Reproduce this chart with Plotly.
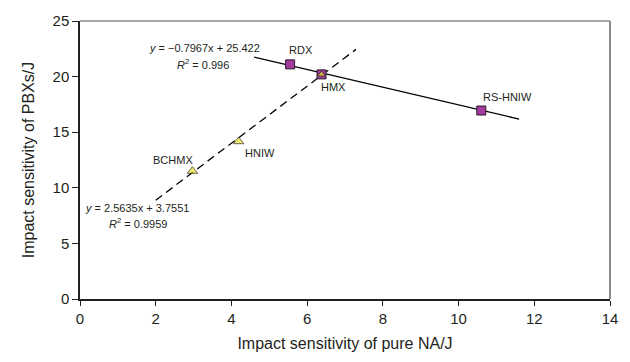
import plotly.graph_objects as go

# data
pbx_names = ["RDX", "HMX", "RS-HNIW"]
pbx_x = [5.55, 6.38, 10.6]
pbx_y = [21.1, 20.2, 16.95]

tri_names = ["BCHMX", "HNIW", "HMX"]
tri_x = [2.97, 4.19, 6.38]
tri_y = [11.5, 14.17, 20.2]

fit1_x = [4.6, 11.6]
fit1_y = [21.76, 16.18]
fit2_x = [2.0, 7.29]
fit2_y = [8.88, 22.45]

x_ticks = [0, 2, 4, 6, 8, 10, 12, 14]
y_ticks = [0, 5, 10, 15, 20, 25]

FONT = "Liberation Sans, Arial, sans-serif"
TXT = "#231f20"

fig = go.Figure()
fig.add_trace(go.Scatter(x=fit1_x, y=fit1_y, mode="lines",
                         line=dict(color="black", width=1.3), showlegend=False))
fig.add_trace(go.Scatter(x=fit2_x, y=fit2_y, mode="lines",
                         line=dict(color="black", width=1.3, dash="8px,5px"), showlegend=False))
fig.add_trace(go.Scatter(x=pbx_x, y=pbx_y, mode="markers",
                         marker=dict(symbol="square", size=9, color="#a23b9c",
                                     line=dict(color="#2a1a2a", width=1)), showlegend=False))
fig.add_trace(go.Scatter(x=tri_x, y=tri_y, mode="markers",
                         marker=dict(symbol="triangle-up", size=[9, 9, 7], color="#e8e027",
                                     line=dict(color="#2a2a1a", width=1)), showlegend=False))

# point labels (pixel offsets)
label_off = {"RDX": (11, -14), "HMX": (12, 13), "RS-HNIW": (26, -14),
             "HNIW": (21, 12), "BCHMX": (-19, -11)}
ann = []
for names, xs, ys in [(pbx_names, pbx_x, pbx_y), (tri_names[:2], tri_x[:2], tri_y[:2])]:
    for n, xv, yv in zip(names, xs, ys):
        dx, dy = label_off[n]
        ann.append(dict(x=xv, y=yv, text=n, showarrow=False, xshift=dx, yshift=-dy,
                        font=dict(family=FONT, size=11, color=TXT)))

eqs = [("<i>y</i> = \u22120.7967x + 25.422", 206, 46.7),
       ("<i>R</i><sup>2</sup> = 0.996", 205, 63.3),
       ("<i>y</i> = 2.5635x + 3.7551", 138, 207.7),
       ("<i>R</i><sup>2</sup> = 0.9959", 139, 223.3)]
x0p, x1p, y0p, y1p = 80, 618, 299.3, 20
for t, px, py in eqs:
    ann.append(dict(xref="x", yref="y",
                    x=(px - x0p) / (x1p - x0p) * 14, y=(y0p - py) / (y0p - y1p) * 25,
                    text=t, showarrow=False, font=dict(family=FONT, size=11, color=TXT)))

fig.update_layout(
    width=630, height=362,
    margin=dict(l=80, r=12, t=20, b=63),
    plot_bgcolor="white", paper_bgcolor="white",
    annotations=ann,
    font=dict(family=FONT, color=TXT),
    shapes=[dict(type="line", xref="paper", yref="paper", x0=0, x1=1, y0=1, y1=1,
                 line=dict(color="#8a8a8a", width=1.5)),
            dict(type="line", xref="paper", yref="paper", x0=1, x1=1, y0=0, y1=1,
                 line=dict(color="#8a8a8a", width=2))],
)
fig.update_xaxes(range=[0, 14], tickvals=x_ticks, showgrid=False, zeroline=False,
                 showline=True, linecolor="#231f20", linewidth=1.5,
                 ticks="outside", ticklen=5, tickcolor="#231f20",
                 tickfont=dict(size=15, family=FONT, color=TXT),
                 title=dict(text="Impact sensitivity of pure NA/J", standoff=12,
                            font=dict(size=16, family=FONT, color=TXT)))
fig.update_yaxes(range=[0, 25], tickvals=y_ticks, showgrid=False, zeroline=False,
                 showline=True, linecolor="#231f20", linewidth=1.5,
                 ticks="outside", ticklen=6, tickcolor="#231f20",
                 tickfont=dict(size=15, family=FONT, color=TXT),
                 title=dict(text="Impact sensitivity of PBXs/J", standoff=14,
                            font=dict(size=16, family=FONT, color=TXT)))

fig.write_html("out.html")
